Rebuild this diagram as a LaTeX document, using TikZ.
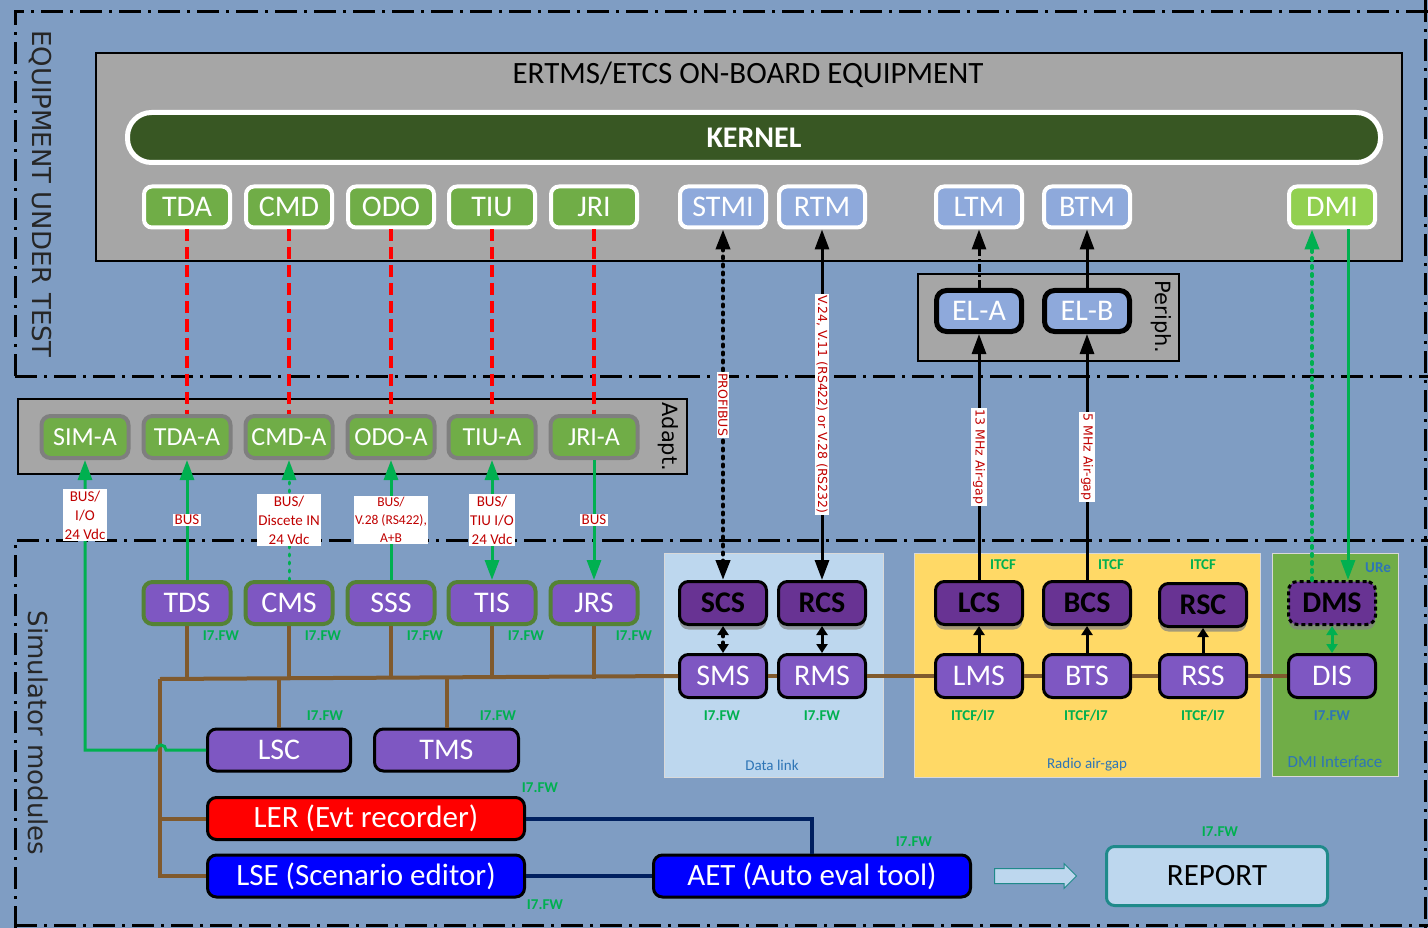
\documentclass[tikz,border=0pt]{standalone}
\usepackage{fontspec}
\setmainfont{Carlito}
\newfontfamily\vfont{DejaVu Sans}
\usetikzlibrary{
	arrows.meta,
	positioning,
	calc,
	shapes.arrows,
	shadows
}

\newcommand{\pxfont}[2]{\fontsize{#1}{#2}\selectfont}

\definecolor{bgblue}{RGB}{127,157,195}
\definecolor{boxgray}{RGB}{166,166,166}
\definecolor{kerngreen}{RGB}{56,87,35}
\definecolor{modgreen}{RGB}{112,173,71}
\definecolor{modblue}{RGB}{142,169,219}
\definecolor{dmigreen}{RGB}{146,208,80}
\definecolor{adgray}{RGB}{127,127,127}
\definecolor{simpurple}{RGB}{126,87,194}
\definecolor{simedge}{RGB}{84,130,53}
\definecolor{darkpurple}{RGB}{104,51,147}
\definecolor{busbrown}{RGB}{128,90,45}
\definecolor{linkgreen}{RGB}{0,176,80}
\definecolor{lblred}{RGB}{192,0,0}
\definecolor{paleblue}{RGB}{189,215,238}
\definecolor{paleyellow}{RGB}{255,217,102}
\definecolor{linenavy}{RGB}{0,32,96}
\definecolor{reportteal}{RGB}{31,138,138}
\definecolor{capblue}{RGB}{46,117,182}

\begin{document}
\begin{tikzpicture}[x=1pt, y=-1pt,
		borderline/.style={line width=3pt, dash pattern=on 22pt off 7pt on 3pt off 7pt},
		unitbox/.style={draw=black, line width=2pt, fill=boxgray},
		panel/.style={draw=black!15, line width=1pt},
		kern/.style={rounded corners=24pt, fill=kerngreen, draw=white, line width=5pt, text=white, minimum width=1253pt, minimum height=50pt, inner sep=0pt, font=\bfseries\pxfont{30}{30}},
		obu/.style={rounded corners=8pt, draw=white, line width=4pt, text=white, minimum width=86pt, minimum height=41pt, inner sep=0pt, font=\pxfont{30}{30}},
		elbox/.style={rounded corners=10pt, fill=modblue, draw=black, line width=5pt, text=white, minimum width=85pt, minimum height=41pt, inner sep=0pt, font=\pxfont{30}{30}},
		adp/.style={rounded corners=9pt, fill=modgreen, draw=adgray, line width=4pt, text=white, minimum width=87pt, minimum height=42pt, inner sep=0pt, font=\pxfont{26}{26}},
		simr/.style={rounded corners=9pt, fill=simpurple, draw=simedge, line width=4pt, text=white, minimum width=87pt, minimum height=42pt, inner sep=0pt, font=\pxfont{30}{30}},
		simk/.style={rounded corners=9pt, fill=darkpurple, draw=black, line width=3pt, text=black, minimum width=87pt, minimum height=43pt, inner sep=0pt, font=\bfseries\pxfont{30}{30}, drop shadow={shadow xshift=0pt, shadow yshift=-5pt, fill=black!50, opacity=.7}},
		sims/.style={rounded corners=9pt, fill=simpurple, draw=black, line width=3pt, text=white, minimum width=87pt, minimum height=43pt, inner sep=0pt, font=\pxfont{30}{30}},
		toolbox/.style={rounded corners=9pt, draw=black, line width=3pt, text=white, inner sep=0pt, minimum height=42pt, font=\pxfont{31}{31}},
		lbl/.style={fill=white, text=lblred, align=center, inner sep=1.5pt, font=\pxfont{15}{19}},
		vlbl/.style={fill=white, text=lblred, inner sep=1.5pt, rotate=-90, font=\vfont\pxfont{12.5}{13}},
		fw/.style={text=linkgreen, font=\bfseries\pxfont{15}{15}},
		capt/.style={text=capblue, font=\pxfont{15}{15}},
		sidetext/.style={text=black!85, rotate=-90, font=\vfont\pxfont{26}{26}},
		boxtext/.style={text=black, rotate=-90, font=\vfont\pxfont{21}{21}},
		blk/.style={draw=black, line width=3pt},
		gline/.style={draw=linkgreen, line width=3pt},
		redlink/.style={draw=red, line width=4pt, dash pattern=on 12pt off 6pt},
		dotline/.style={line width=4pt, line cap=round, dash pattern=on 2pt off 6pt},
		dashdot/.style={dash pattern=on 8pt off 3pt on 2pt off 3pt},
		bus/.style={draw=busbrown, line width=4pt},
		navyline/.style={draw=linenavy, line width=4pt},
		arrow/.style={-{Triangle[length=20pt,width=14pt]}},
		arrowboth/.style={{Triangle[length=20pt,width=14pt]}-{Triangle[length=20pt,width=14pt]}},
		shortarrow/.style={-{Triangle[length=9pt,width=11pt]}},
		shortboth/.style={{Triangle[length=9pt,width=11pt]}-{Triangle[length=9pt,width=11pt]}}
		]
		
		\useasboundingbox (0,0) rectangle (1428,928);
		\fill[bgblue] (0,0) rectangle (1428,928);
		
		% Frames
		\draw[borderline] (15,376) -- (15,12) -- (1428,12);
		\draw[borderline] (15,376) -- (1428,376);
		\draw[borderline] (1425,0) -- (1425,928);
		\draw[borderline] (15,928) -- (15,540) -- (1428,540);
		\draw[borderline] (15,925) -- (1428,925);
		\node[sidetext] (eut) at (40,194) {EQUIPMENT UNDER TEST};
		\node[sidetext] (simmods) at (38,733) {Simulator modules};
		
		% On-board equipment
		\node[unitbox, minimum width=1306pt, minimum height=208pt] (obe) at (749,157) {};
		\node[font=\pxfont{31}{31}] (obetitle) at (748,75) {ERTMS/ETCS ON-BOARD EQUIPMENT};
		\node[kern] (kernel) at (754,137.5) {KERNEL};
		
		\node[obu, fill=modgreen] (tda) at (187,207) {TDA};
		\node[obu, fill=modgreen, right=12pt of tda] (cmd) {CMD};
		\node[obu, fill=modgreen, right=12pt of cmd] (odo) {ODO};
		\node[obu, fill=modgreen, right=11pt of odo] (tiu) {TIU};
		\node[obu, fill=modgreen, right=12pt of tiu] (jri) {JRI};
		\node[obu, fill=modblue] (stmi) at (723,207) {STMI};
		\node[obu, fill=modblue, right=9pt of stmi] (rtm) {RTM};
		\node[obu, fill=modblue] (ltm) at (979,207) {LTM};
		\node[obu, fill=modblue, right=18pt of ltm] (btm) {BTM};
		\node[obu, fill=dmigreen] (dmi) at (1332,207) {DMI};
		
		% Peripherals
		\node[unitbox, minimum width=261pt, minimum height=87pt] (periph) at (1048.5,317.5) {};
		\node[boxtext] (periphtxt) at (1161,317) {Periph.};
		\node[elbox] (ela) at (979,311) {EL-A};
		\node[elbox, right=18pt of ela] (elb) {EL-B};
		
		% Adapters
		\node[unitbox, minimum width=669pt, minimum height=75pt] (adapt) at (352.5,436.5) {};
		\node[boxtext] (adapttxt) at (668,437) {Adapt.};
		\node[adp] (sima) at (85,437) {SIM-A};
		\node[adp, right=11pt of sima] (tdaa) {TDA-A};
		\node[adp, right=11pt of tdaa] (cmda) {CMD-A};
		\node[adp, right=11pt of cmda] (odoa) {ODO-A};
		\node[adp, right=10pt of odoa] (tiua) {TIU-A};
		\node[adp, right=11pt of tiua] (jria) {JRI-A};
		
		% Interface panels
		\node[panel, fill=paleblue, minimum width=219pt, minimum height=224pt] (datalink) at (773.5,665) {};
		\node[panel, fill=paleyellow, minimum width=346pt, minimum height=224pt] (radio) at (1087,665) {};
		\node[panel, fill=modgreen, minimum width=126pt, minimum height=223pt] (dmipanel) at (1335,664.5) {};
		\node[capt] (dlcap) at (772,765) {Data link};
		\node[capt] (radiocap) at (1087,765) {Radio air-gap};
		\node[capt, font=\pxfont{17}{17}] (dmicap) at (1335,762) {DMI Interface};
		
		% Simulators
		\node[simr] (tds) at (187,603) {TDS};
		\node[simr, right=11pt of tds] (cms) {CMS};
		\node[simr, right=11pt of cms] (sss) {SSS};
		\node[simr, right=10pt of sss] (tis) {TIS};
		\node[simr, right=11pt of tis] (jrs) {JRS};
		
		\node[simk] (scs) at (723,603) {SCS};
		\node[simk, right=9pt of scs] (rcs) {RCS};
		\node[simk] (lcs) at (979,603) {LCS};
		\node[simk, right=18pt of lcs] (bcs) {BCS};
		\node[simk] (rsc) at (1203,605) {RSC};
		\node[simk, dash pattern=on 4pt off 3pt] (dms) at (1332,603) {DMS};
		
		\node[sims, below=27pt of scs] (sms) {SMS};
		\node[sims, below=27pt of rcs] (rms) {RMS};
		\node[sims, below=27pt of lcs] (lms) {LMS};
		\node[sims, below=27pt of bcs] (bts) {BTS};
		\node[sims, below=25pt of rsc] (rss) {RSS};
		\node[sims, below=27pt of dms] (dis) {DIS};
		
		\node[sims, minimum width=143pt, minimum height=42pt] (lsc) at (279,750) {LSC};
		\node[sims, minimum width=144pt, minimum height=42pt, right=21pt of lsc] (tms) {TMS};
		\node[toolbox, fill=red, minimum width=317pt] (ler) at (366,818.5) {LER (Evt recorder)};
		\node[toolbox, fill=blue, minimum width=317pt] (lse) at (366,876) {LSE (Scenario editor)};
		\node[toolbox, fill=blue, minimum width=317pt] (aet) at (812,876) {AET (Auto eval tool)};
		\node[single arrow, draw=reportteal, fill=paleblue, line width=1pt, inner xsep=0pt, inner ysep=7pt, single arrow head extend=5pt, minimum height=82pt, right=22pt of aet] (flow) {};
		\node[rounded corners=8pt, fill=paleblue, draw=reportteal, line width=3pt, minimum width=221pt, minimum height=59pt, font=\pxfont{31}{31}] (report) at (1217,876) {REPORT};
		
		% Protocol tags
		\node[fw] (fwtds) at (221,636) {I7.FW};
		\node[fw] (fwcms) at (323,636) {I7.FW};
		\node[fw] (fwsss) at (425,636) {I7.FW};
		\node[fw] (fwtis) at (526,636) {I7.FW};
		\node[fw] (fwjrs) at (634,636) {I7.FW};
		\node[fw] (fwlsc) at (325,716) {I7.FW};
		\node[fw] (fwtms) at (498,716) {I7.FW};
		\node[fw] (fwler) at (540,788) {I7.FW};
		\node[fw] (fwlse) at (545,905) {I7.FW};
		\node[fw] (fwaet) at (914,842) {I7.FW};
		\node[fw] (fwrep) at (1220,832) {I7.FW};
		\node[fw] (fwsms) at (722,716) {I7.FW};
		\node[fw] (fwrms) at (822,716) {I7.FW};
		\node[fw] (fwlms) at (973,716) {ITCF/I7};
		\node[fw] (fwbts) at (1086,716) {ITCF/I7};
		\node[fw] (fwrss) at (1203,716) {ITCF/I7};
		\node[fw, text=capblue] (fwdis) at (1332,716) {I7.FW};
		\node[fw] (itcflcs) at (1003,565) {ITCF};
		\node[fw] (itcfbcs) at (1111,565) {ITCF};
		\node[fw] (itcfrsc) at (1203,565) {ITCF};
		\node[fw, text=capblue] (ure) at (1378,568) {URe};
		
		% Arrows
		\draw[redlink] (tda.south) -- (tdaa.north);
		\draw[redlink] (cmd.south) -- (cmda.north);
		\draw[redlink] (odo.south) -- (odoa.north);
		\draw[redlink] (tiu.south) -- (tiua.north);
		\draw[redlink] (jri.south) -- (jria.north);
		
		\draw[blk, dotline, arrowboth] (stmi) -- node[vlbl]{PROFIBUS} (scs);
		\draw[blk, arrowboth] (rtm) -- node[vlbl]{V.24, V.11 (RS422) or V.28 (RS232)} (rcs);
		\draw[blk, dashdot, arrow] (ela) -- (ltm);
		\draw[blk, arrow] (elb) -- (btm);
		\draw[blk, arrow] (lcs) -- node[vlbl]{13 MHz Air-gap} (ela);
		\draw[blk, arrow] (bcs) -- node[vlbl]{5 MHz Air-gap} (elb);
		\draw[gline, dotline, arrow] ([xshift=-20pt]dms.north) -- ([xshift=-20pt]dmi.south);
		\draw[gline, arrow] ([xshift=16pt]dmi.south) -- ([xshift=16pt]dms.north);
		
		\draw[blk, dotline, shortboth] (scs) -- (sms);
		\draw[blk, shortboth] (rcs) -- (rms);
		\draw[blk, shortarrow] (lms) -- (lcs);
		\draw[blk, shortarrow] (bts) -- (bcs);
		\draw[blk, shortarrow] (rss) -- (rsc);
		\draw[gline, shortboth] (dms) -- (dis);
		
		% Simulator bus
		\coordinate (busl) at (160,679);
		\draw[bus] (busl) -- (sms.west);
		\draw[bus] (sms) -- (rms);
		\draw[bus] (rms) -- (lms);
		\draw[bus] (lms) -- (bts);
		\draw[bus] (bts) -- (rss);
		\draw[bus] (rss) -- (dis);
		\draw[bus] (busl) |- (lse.west);
		\draw[bus] (busl |- ler.west) -- (ler.west);
		\draw[bus] (tds.south) -- (tds.south |- busl);
		\draw[bus] (cms.south) -- (cms.south |- busl);
		\draw[bus] (sss.south) -- (sss.south |- busl);
		\draw[bus] (tis.south) -- (tis.south |- busl);
		\draw[bus] (jrs.south) -- (jrs.south |- busl);
		\draw[bus] (lsc.north) -- (lsc.north |- busl);
		\draw[bus] (tms.north) -- (tms.north |- busl);
		
		\draw[navyline] (ler.east) -| (aet.north);
		\draw[navyline] (lse) -- (aet);
		
		% Adapter links
		\coordinate (simbend) at (sima.south |- lsc.west);
		\draw[gline, arrow] (lsc.west) -- ([xshift=-40pt]lsc.west) arc[start angle=0, end angle=-180, radius=5] -- (simbend) -- node[lbl, pos=.81]{BUS/\\I/O\\24 Vdc} (sima.south);
		\draw[gline, arrow] (tds) -- node[lbl]{BUS} (tdaa);
		\draw[gline, dotline, line width=3pt, arrow] (cms) -- node[lbl]{BUS/\\Discete IN\\24 Vdc} (cmda);
		\draw[gline, arrow] (sss) -- node[lbl, font=\pxfont{13.5}{18}]{BUS/\\V.28 (RS422),\\A+B} (odoa);
		\draw[gline, arrowboth] (tis) -- node[lbl]{BUS/\\TIU I/O\\24 Vdc} (tiua);
		\draw[gline, arrow] (jria) -- node[lbl]{BUS} (jrs);
		
	\end{tikzpicture}
\end{document}
